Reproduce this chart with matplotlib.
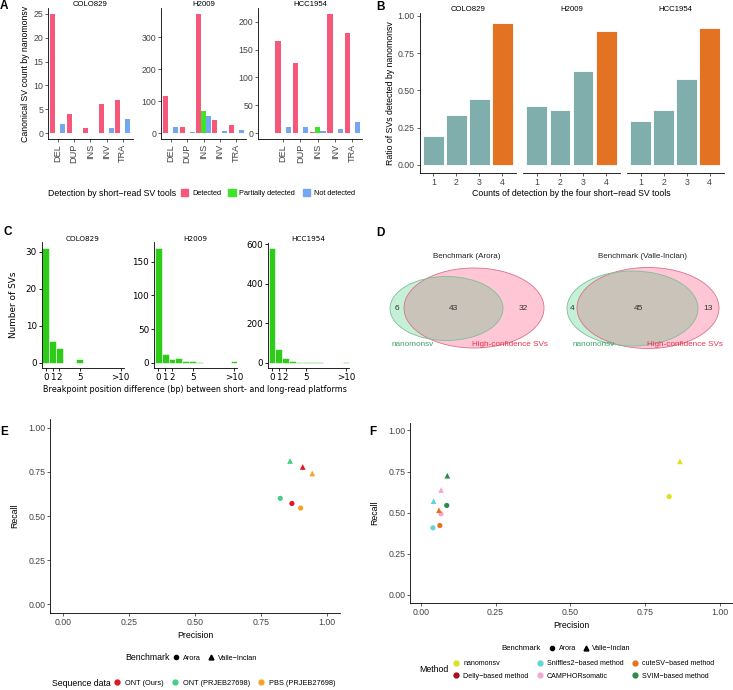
import numpy as np
import matplotlib.pyplot as plt
from matplotlib.patches import Ellipse, Patch
from matplotlib.lines import Line2D

W, H = 733, 690
plt.rcParams['font.family'] = ['Liberation Sans', 'DejaVu Sans']
plt.rcParams['axes.linewidth'] = 0.6

# ---- panel A data ----
sv_types = ['DEL', 'DUP', 'INS', 'INV', 'TRA']
samples = ['COLO829', 'H2009', 'HCC1954']
a_detected = [[25, 4, 1, 6, 7], [117, 20, 372, 40, 25], [165, 126, 1, 214, 180]]
a_partial = [[0, 0, 0, 0, 0], [0, 0, 68, 0, 0], [0, 0, 11, 0, 0]]
a_notdet = [[2, 0, 0, 1, 3], [18, 4, 52, 7, 10], [11, 10, 4, 7, 20]]
a_yticks = [[0, 5, 10, 15, 20, 25], [0, 100, 200, 300], [0, 50, 100, 150, 200]]
det_labels = ['Detected', 'Partially detected', 'Not detected']
det_colors = ['#F5587A', '#3FE32A', '#74A7F2']

# ---- panel B data ----
b_counts = [1, 2, 3, 4]
b_ratio = [[0.194, 0.335, 0.444, 0.951], [0.397, 0.366, 0.632, 0.897], [0.297, 0.366, 0.574, 0.920]]

# ---- panel C data ----
c_bins = [0, 1, 2, 3, 4, 5, 6, 7, 8, 9, 10, 11]
c_counts = [[31, 6, 4, 0, 0, 1, 0, 0, 0, 0, 0, 0],
            [170, 13, 6, 7, 2, 2, 1, 0, 0, 0, 0, 2],
            [580, 68, 24, 8, 6, 4, 2, 2, 1, 1, 0, 3]]
c_ticks = [0, 1, 2, 5, 11]
c_ticklabels = ['0', '1', '2', '5', '>10']
c_yticks = [[0, 10, 20, 30], [0, 50, 100, 150], [0, 200, 400, 600]]

# ---- panel D data ----
venn_titles = ['Benchmark (Arora)', 'Benchmark (Valle-Inclan)']
venn_only_nano = [6, 4]
venn_both = [43, 45]
venn_only_hc = [32, 13]

# ---- panel E data ----
seq_data = ['ONT (Ours)', 'ONT (PRJEB27698)', 'PBS (PRJEB27698)']
seq_colors = ['#E3161C', '#45CF86', '#F2A426']
e_arora_prec = [0.866, 0.822, 0.899]
e_arora_rec = [0.571, 0.600, 0.545]
e_valle_prec = [0.907, 0.859, 0.943]
e_valle_rec = [0.778, 0.812, 0.741]

# ---- panel F data ----
methods = ['nanomonsv', 'Delly\u2212based method', 'Sniffles2\u2212based method',
           'CAMPHORsomatic', 'cuteSV\u2212based method', 'SVIM\u2212based method']
method_colors = ['#DCE21B', '#A80F1A', '#66D3DA', '#F5A6D6', '#E8711C', '#2E8B4B']
f_arora_prec = [0.830, np.nan, 0.041, 0.068, 0.064, 0.087]
f_arora_rec = [0.598, np.nan, 0.408, 0.493, 0.422, 0.544]
f_valle_prec = [0.866, np.nan, 0.043, 0.068, 0.061, 0.089]
f_valle_rec = [0.812, np.nan, 0.570, 0.638, 0.515, 0.725]

TICK = 6.3
LAB = 6.3
LEG = 5.3

fig = plt.figure(figsize=(W / 100, H / 100), dpi=100)


def px_axes(x0, y0, x1, y1):
    return fig.add_axes([x0 / W, 1 - y1 / H, (x1 - x0) / W, (y1 - y0) / H])


def fx(x):
    return x / W


def fy(y):
    return 1 - y / H


def classic(ax, left=True):
    for s in ['top', 'right']:
        ax.spines[s].set_visible(False)
    if not left:
        ax.spines['left'].set_visible(False)
    ax.tick_params(labelsize=TICK, length=2, width=0.5, colors='#222222', labelcolor='#444444', pad=1.5)


# panel labels
for lab, x, y in [('A', 0, 6), ('B', 376, 7), ('C', 4, 232), ('D', 376, 233), ('E', 0, 432), ('F', 369, 432)]:
    fig.text(fx(x), fy(y), lab, fontsize=8.5, fontweight='bold', va='center', ha='left')

# ---- A ----
a_boxes = [(48, 8, 132.5, 139), (161, 8, 246, 139), (258, 8, 362, 139)]
a_xlims = [(-0.6, 4.6), (-0.6, 4.6), (-1.45, 4.55)]
x = np.arange(len(sv_types))
for i, s in enumerate(samples):
    ax = px_axes(*a_boxes[i])
    for k, vals in enumerate([a_detected[i], a_partial[i], a_notdet[i]]):
        ax.bar(x + (k - 1) * 0.3, vals, width=0.3, color=det_colors[k])
    mx = max(a_detected[i] + a_partial[i] + a_notdet[i])
    ax.set_ylim(-0.05 * mx, 1.05 * mx)
    ax.set_xlim(*a_xlims[i])
    ax.set_xticks(x)
    ax.set_xticklabels(sv_types, rotation=90)
    ax.set_yticks(a_yticks[i])
    classic(ax)
    ax.tick_params(axis='x', labelsize=6.6)
    ax.set_title(s, fontsize=5.6, pad=1)
    if i == 0:
        ax.set_ylabel('Canonical SV count by nanomonsv', fontsize=LAB, labelpad=2)

fig.text(fx(48), fy(193), 'Detection by short\u2212read SV tools', fontsize=LAB, va='center')
fig.legend([Patch(color=c) for c in det_colors], det_labels, ncol=3, loc='center left',
           bbox_to_anchor=(fx(181), fy(193)), frameon=False, fontsize=LEG, handlelength=1.0,
           handleheight=1.0, handletextpad=0.5, columnspacing=1.0, borderpad=0, borderaxespad=0)

# ---- B ----
b_boxes = [(419.5, 13, 516, 173), (523, 13, 620, 173), (627, 13, 723.5, 173)]
for i, s in enumerate(samples):
    ax = px_axes(*b_boxes[i])
    cols = ['#7FAEAD'] * 3 + ['#E37222']
    ax.bar(b_counts, b_ratio[i], width=0.9, color=cols, edgecolor='white', linewidth=0.6)
    ax.set_xlim(0.4, 4.6)
    ax.set_ylim(-0.0536, 1.018)
    ax.set_xticks(b_counts)
    ax.set_yticks([0, 0.25, 0.5, 0.75, 1.0])
    ax.set_yticklabels(['0.00', '0.25', '0.50', '0.75', '1.00'])
    classic(ax, left=(i == 0))
    if i > 0:
        ax.tick_params(axis='y', left=False, labelleft=False)
    ax.set_title(s, fontsize=5.6, pad=-3.5)
    if i == 0:
        ax.set_ylabel('Ratio of SVs detected by nanomonsv', fontsize=LAB, labelpad=2)
fig.text(fx(571), fy(193), 'Counts of detection by the four short\u2212read SV tools', fontsize=LAB,
         ha='center', va='center')

# ---- C ----
c_boxes = [(41.7, 242.5, 123.5, 368.5), (154, 242.5, 237, 368.5), (268, 242.5, 349, 368.5)]
for i, s in enumerate(samples):
    ax = px_axes(*c_boxes[i])
    ax.bar(c_bins, c_counts[i], width=1.0, color='#2ECC18', edgecolor='white', linewidth=0.4)
    mx = max(c_counts[i])
    ax.set_ylim(-0.05 * mx, 1.05 * mx)
    ax.set_xlim(-0.6, 11.4)
    ax.set_xticks(c_ticks)
    ax.set_xticklabels(c_ticklabels, family='DejaVu Sans')
    ax.set_yticks(c_yticks[i])
    for t in ax.get_yticklabels():
        t.set_family('DejaVu Sans')
    for sp in ['top', 'right']:
        ax.spines[sp].set_visible(False)
    ax.tick_params(labelsize=6.3, length=2.5, width=0.6, pad=1)
    ax.set_title(s, fontsize=5.2, family='DejaVu Sans', pad=1)
fig.text(fx(14), fy(305), 'Number of SVs', rotation=90, fontsize=6.4, family='DejaVu Sans',
         ha='center', va='center')
fig.text(fx(195), fy(389), 'Breakpoint position difference (bp) between short- and long-read platforms',
         fontsize=5.8, family='DejaVu Sans', ha='center', va='center')

# ---- D ----
axd = px_axes(370, 240, 733, 360)
axd.set_xlim(370, 733)
axd.set_ylim(360, 240)
axd.axis('off')
venn_geom = [((446.5, 308.5, 113, 64), (474, 308, 140, 80), 467, (397, 453, 523), (413, 510)),
             ((632.5, 308.5, 131, 75), (648, 308, 142, 81), 643, (572, 638, 708), (594, 685))]
for j in range(2):
    g, p, tx, nx, lx = venn_geom[j]
    pink = Ellipse((p[0], p[1]), p[2], p[3], facecolor='#FFC6D6', edgecolor='none')
    green = Ellipse((g[0], g[1]), g[2], g[3], facecolor='#C6EFD8', edgecolor='none')
    axd.add_patch(pink)
    axd.add_patch(green)
    inter = Ellipse((g[0], g[1]), g[2], g[3], facecolor='#C9C3BA', edgecolor='none')
    axd.add_patch(inter)
    inter.set_clip_path(pink)
    axd.add_patch(Ellipse((p[0], p[1]), p[2], p[3], facecolor='none', edgecolor='#DD7088', lw=0.6))
    axd.add_patch(Ellipse((g[0], g[1]), g[2], g[3], facecolor='none', edgecolor='#7DBF96', lw=0.6))
    axd.text(tx, 257, venn_titles[j], fontsize=5.8, ha='center', va='center', color='#222222')
    for xx, v in zip(nx, [venn_only_nano[j], venn_both[j], venn_only_hc[j]]):
        axd.text(xx, 308, str(v), fontsize=6, ha='center', va='center', color='#333333')
    axd.text(lx[0], 345, 'nanomonsv', fontsize=5.9, ha='center', va='center', color='#3DA366')
    axd.text(lx[1], 345, 'High-confidence SVs', fontsize=5.9, ha='center', va='center', color='#E8354F')

# ---- E ----
ticks01 = [0, 0.25, 0.5, 0.75, 1.0]
tick01_labels = ['0.00', '0.25', '0.50', '0.75', '1.00']
axe = px_axes(50, 419, 340.5, 613)
axe.scatter(e_arora_prec, e_arora_rec, c=seq_colors, marker='o', s=14, linewidths=0)
axe.scatter(e_valle_prec, e_valle_rec, c=seq_colors, marker='^', s=17, linewidths=0)
axe.set_xlim(-0.05, 1.05)
axe.set_ylim(-0.05, 1.05)
axe.set_xticks(ticks01)
axe.set_xticklabels(tick01_labels)
axe.set_yticks(ticks01)
axe.set_yticklabels(tick01_labels)
classic(axe)
axe.set_xlabel('Precision', fontsize=LAB, labelpad=3)
axe.set_ylabel('Recall', fontsize=LAB, labelpad=6)

shape_handles = [Line2D([], [], marker='o', ls='none', color='black', markersize=3),
                 Line2D([], [], marker='^', ls='none', color='black', markersize=3.5)]
shape_labels = ['Arora', 'Valle\u2212Inclan']

fig.text(fx(125), fy(658), 'Benchmark', fontsize=LAB, va='center')
fig.legend(shape_handles, shape_labels, ncol=2, loc='center left', bbox_to_anchor=(fx(172), fy(658)),
           frameon=False, fontsize=LEG, handlelength=1.2, handletextpad=0.3, columnspacing=0.8,
           borderpad=0, borderaxespad=0)
fig.text(fx(52), fy(683), 'Sequence data', fontsize=LAB, va='center')
fig.legend([Line2D([], [], marker='o', ls='none', color=c, markersize=3.5) for c in seq_colors], seq_data,
           ncol=3, loc='center left', bbox_to_anchor=(fx(113), fy(683)), frameon=False, fontsize=LEG,
           handlelength=1.2, handletextpad=0.4, columnspacing=1.0, borderpad=0, borderaxespad=0)

# ---- F ----
axf = px_axes(410, 422.7, 733, 602.7)
axf.scatter(f_arora_prec, f_arora_rec, c=method_colors, marker='o', s=14, linewidths=0)
axf.scatter(f_valle_prec, f_valle_rec, c=method_colors, marker='^', s=17, linewidths=0)
axf.set_xlim(-0.0357, 1.0434)
axf.set_ylim(-0.047, 1.047)
axf.set_xticks(ticks01)
axf.set_xticklabels(tick01_labels)
axf.set_yticks(ticks01)
axf.set_yticklabels(tick01_labels)
classic(axf)
axf.set_xlabel('Precision', fontsize=LAB, labelpad=3)
axf.set_ylabel('Recall', fontsize=LAB, labelpad=6)

fig.text(fx(501), fy(649), 'Benchmark', fontsize=5.6, va='center')
fig.legend(shape_handles, shape_labels, ncol=2, loc='center left', bbox_to_anchor=(fx(548), fy(649)),
           frameon=False, fontsize=5.1, handlelength=1.2, handletextpad=0.3, columnspacing=0.8,
           borderpad=0, borderaxespad=0)
fig.text(fx(419), fy(670), 'Method', fontsize=LAB, va='center')
fig.legend([Line2D([], [], marker='o', ls='none', color=c, markersize=3.5) for c in method_colors], methods,
           ncol=3, loc='center left', bbox_to_anchor=(fx(452), fy(670)), frameon=False, fontsize=5.1,
           handlelength=1.2, handletextpad=0.4, columnspacing=1.0, borderpad=0, borderaxespad=0,
           labelspacing=0.75)

fig.savefig('out.png', dpi=100)
